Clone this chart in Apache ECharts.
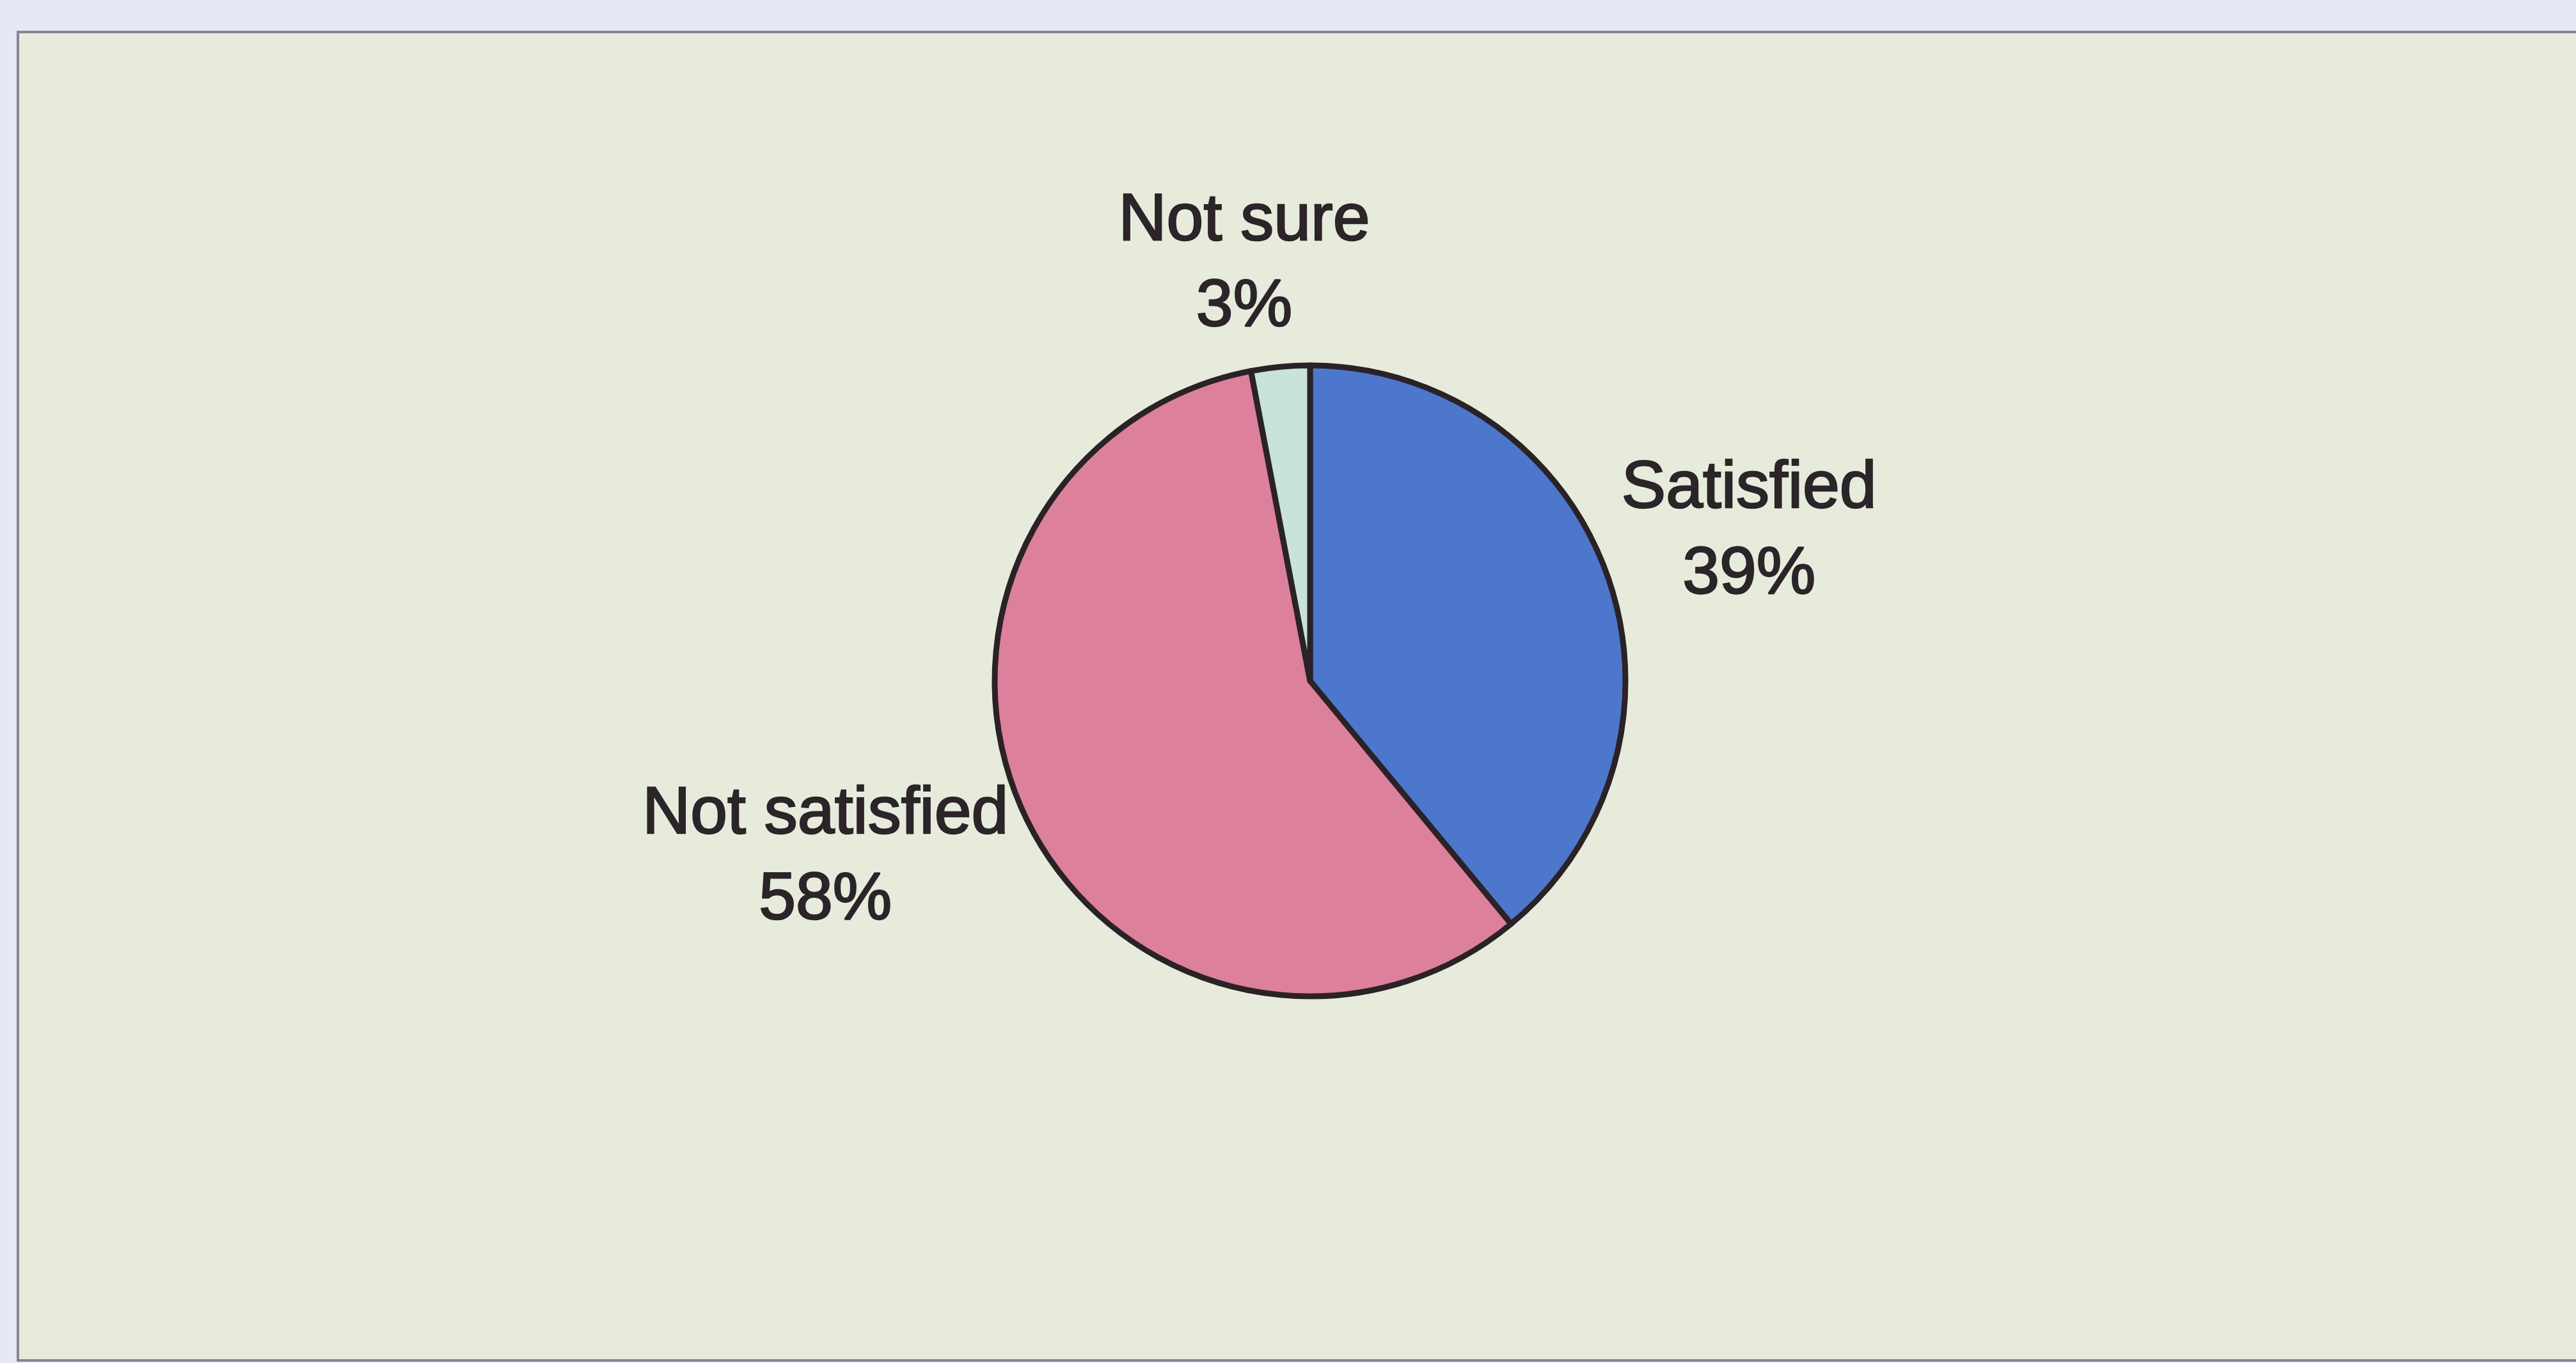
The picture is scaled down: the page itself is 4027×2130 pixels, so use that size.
<!DOCTYPE html>
<html>
<head>
<meta charset="utf-8">
<script src="https://cdn.jsdelivr.net/npm/echarts@6/dist/echarts.min.js"></script>
<style>
  html, body { margin: 0; padding: 0; background: #e4e9f5; }
  #chart { width: 4027px; height: 2130px; }
</style>
</head>
<body>
<div id="chart"></div>
<script>
const categories = ['Satisfied', 'Not satisfied', 'Not sure'];
const values = [39, 58, 3];
const sliceColors = ['#4d77cc', '#dc809b', '#c8e3d7'];

// label placement relative to the pie centre, in units of the pie radius
const labelOffsets = [[1.392, -0.471], [-1.537, 0.561], [-0.209, -1.320]];

const chart = echarts.init(document.getElementById('chart'), null, { renderer: 'canvas' });
const CX = 2048, CY = 1064, R = 493;

chart.setOption({
  backgroundColor: '#e4e9f5',
  animation: false,
  graphic: [{
    type: 'rect',
    shape: { x: 28, y: 50, width: 4100, height: 2076 },
    style: { fill: '#e7ebdc', stroke: '#8b8391', lineWidth: 4 },
    z: -10
  }],
  series: [{
    type: 'pie',
    center: [CX, CY],
    radius: R,
    startAngle: 90,
    clockwise: true,
    data: categories.map((c, i) => ({
      name: c,
      value: values[i],
      itemStyle: { color: sliceColors[i] }
    })),
    itemStyle: { borderColor: '#2a2227', borderWidth: 9 },
    label: {
      show: true,
      position: 'outside',
      formatter: p => p.name + '\n' + Math.round(p.percent) + '%',
      fontFamily: 'Liberation Sans, Arial, sans-serif',
      fontSize: 104,
      lineHeight: 134,
      color: '#2b2428',
      textBorderColor: '#2b2428',
      textBorderWidth: 2.5,
      align: 'center'
    },
    labelLine: { show: false },
    labelLayout: params => {
      const o = labelOffsets[params.dataIndex];
      return {
        x: CX + o[0] * R,
        y: CY + o[1] * R,
        align: 'center',
        verticalAlign: 'middle'
      };
    },
    emphasis: { disabled: true }
  }]
});
</script>
</body>
</html>
